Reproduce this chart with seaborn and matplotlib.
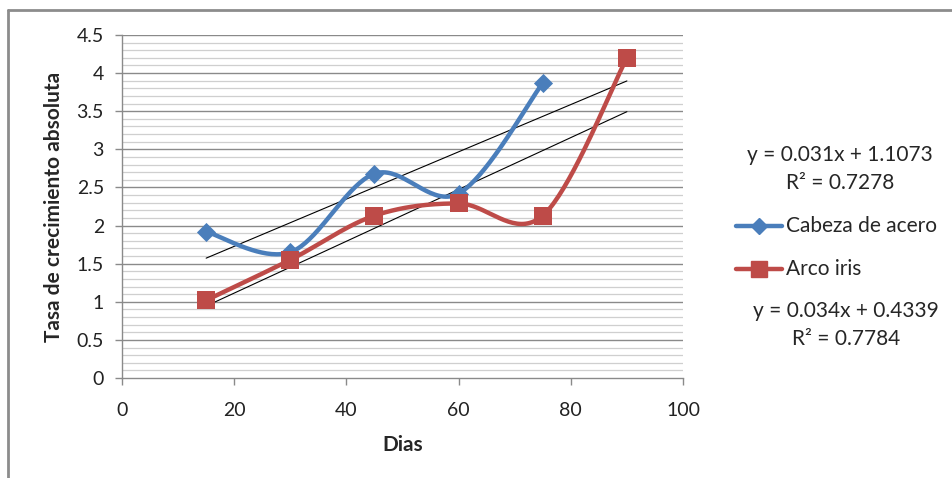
import numpy as np
import pandas as pd
import matplotlib
matplotlib.use("Agg")
import matplotlib.pyplot as plt
from matplotlib.lines import Line2D
import seaborn as sns

# Growth-rate measurements per sampling day
dias_acero = [15, 30, 45, 60, 75]
tasa_acero = [1.92, 1.65, 2.68, 2.42, 3.87]
dias_iris = [15, 30, 45, 60, 75, 90]
tasa_iris = [1.02, 1.55, 2.13, 2.29, 2.13, 4.20]

serie_nombres = ["Cabeza de acero", "Arco iris"]
eq_acero = "y = 0.031x + 1.1073"
r2_acero = "R² = 0.7278"
eq_iris = "y = 0.034x + 0.4339"
r2_iris = "R² = 0.7784"
pend_acero, int_acero = 0.031, 1.1073
pend_iris, int_iris = 0.034, 0.4339
rango_tendencia = [15, 90]

x_ticks = [0, 20, 40, 60, 80, 100]
y_ticks = [0, 0.5, 1, 1.5, 2, 2.5, 3, 3.5, 4, 4.5]

AZUL = "#4A7EBB"
ROJO = "#BE4B48"

sns.set_theme(style="white")
plt.rcParams["font.family"] = ["Lato", "DejaVu Sans"]


def suavizar(x, y, n=40):
    """Smoothed curve through the points (cubic Bezier, Catmull-Rom style)."""
    p = np.column_stack([x, y]).astype(float)
    pts = [p[0]]
    for i in range(len(p) - 1):
        p0 = p[i - 1] if i > 0 else p[i]
        p1, p2 = p[i], p[i + 1]
        p3 = p[i + 2] if i + 2 < len(p) else p[i + 1]
        c1 = p1 + (p2 - p0) / 6.0
        c2 = p2 - (p3 - p1) / 6.0
        t = np.linspace(0, 1, n)[1:, None]
        seg = ((1 - t) ** 3) * p1 + 3 * ((1 - t) ** 2) * t * c1 + 3 * (1 - t) * t ** 2 * c2 + t ** 3 * p2
        pts.extend(seg)
    pts = np.array(pts)
    return pts[:, 0], pts[:, 1]


fig = plt.figure(figsize=(9.52, 4.78), dpi=100)
ax = fig.add_axes([122 / 952, 100 / 478, (683 - 122) / 952, (378 - 35) / 478])

# outer chart frame (top and left edges visible)
fig.add_artist(Line2D([8 / 952, 8 / 952], [0, 1 - 10 / 478], transform=fig.transFigure,
                      color="#8c8c8c", lw=2))
fig.add_artist(Line2D([8 / 952, 1], [1 - 10 / 478, 1 - 10 / 478], transform=fig.transFigure,
                      color="#8c8c8c", lw=2))

ax.set_xlim(0, 100)
ax.set_ylim(0, 4.5)

# grid: major every 0.5, minor every 0.1
for v in np.arange(0.1, 4.5001, 0.1):
    major = abs(v / 0.5 - round(v / 0.5)) < 1e-6
    ax.axhline(v, color="#8a8a8a" if major else "#cfcfcf", lw=1.0 if major else 0.9, zorder=0)

# trend lines
xt = np.array(rango_tendencia, dtype=float)
ax.plot(xt, pend_acero * xt + int_acero, color="black", lw=0.8, zorder=2)
ax.plot(xt, pend_iris * xt + int_iris, color="black", lw=0.8, zorder=2)

# smoothed series
for dias, tasa, color, marca, tam, nombre in [
    (dias_acero, tasa_acero, AZUL, "D", 95, serie_nombres[0]),
    (dias_iris, tasa_iris, ROJO, "s", 160, serie_nombres[1]),
]:
    sx, sy = suavizar(dias, tasa)
    curva = pd.DataFrame({"x": sx, "y": sy})
    sns.lineplot(data=curva, x="x", y="y", sort=False, color=color, lw=3.2, ax=ax, zorder=3,
                 estimator=None)
    sns.scatterplot(x=dias, y=tasa, marker=marca, s=tam, color=color, edgecolor=color,
                    linewidth=0, ax=ax, zorder=4)

for s in ["top", "right"]:
    ax.spines[s].set_visible(False)
for s in ["left", "bottom"]:
    ax.spines[s].set_color("#8a8a8a")
    ax.spines[s].set_linewidth(1.0)

ax.set_xticks(x_ticks)
ax.set_yticks(y_ticks)
ax.set_yticklabels([f"{v:g}" for v in y_ticks])
ax.tick_params(axis="both", which="major", direction="out", length=5, width=1, color="#8a8a8a",
               labelsize=14, labelcolor="#222222", left=True, bottom=True)
ax.tick_params(axis="x", pad=12)
ax.tick_params(axis="y", pad=8)
ax.set_xlabel("Dias", fontsize=15, fontweight="bold", labelpad=12)
ax.set_ylabel("Tasa de crecimiento absoluta", fontsize=15, fontweight="bold", labelpad=9)

# equations and legend on the right
FS = 15
fig.text(840 / 952, 1 - 155 / 478, eq_acero, ha="center", va="center", fontsize=FS)
fig.text(840 / 952, 1 - 183 / 478, r2_acero, ha="center", va="center", fontsize=FS)
fig.text(846 / 952, 1 - 311 / 478, eq_iris, ha="center", va="center", fontsize=FS)
fig.text(846 / 952, 1 - 339 / 478, r2_iris, ha="center", va="center", fontsize=FS)

for yy, color, marca, ms, nombre in [(226, AZUL, "D", 8, serie_nombres[0]),
                                     (269, ROJO, "s", 12, serie_nombres[1])]:
    yf = 1 - yy / 478
    fig.add_artist(Line2D([736 / 952, 782 / 952], [yf, yf], transform=fig.transFigure,
                          color=color, lw=3.2))
    fig.add_artist(Line2D([759 / 952], [yf], transform=fig.transFigure, color=color,
                          marker=marca, markersize=ms, lw=0))
    fig.text(786 / 952, yf, nombre, ha="left", va="center", fontsize=FS)

fig.savefig("out.png", dpi=100, facecolor="white")
